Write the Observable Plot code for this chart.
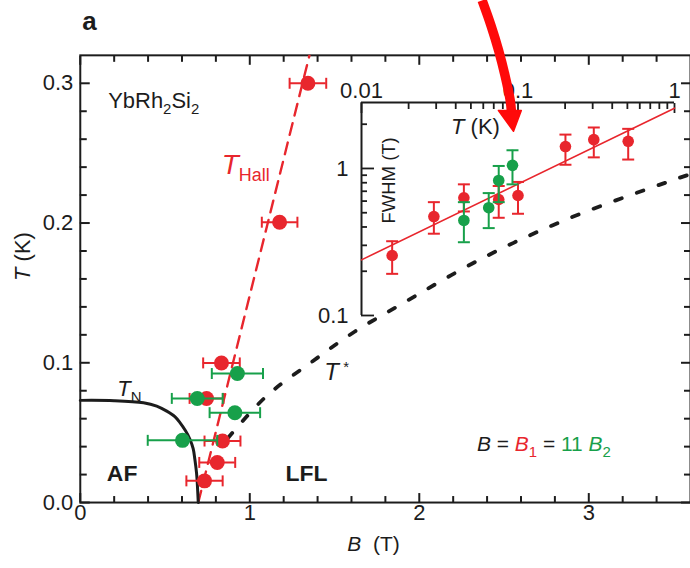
<!DOCTYPE html>
<html>
<head>
<meta charset="utf-8">
<script src="https://cdn.jsdelivr.net/npm/d3@7"></script>
<script src="https://cdn.jsdelivr.net/npm/@observablehq/plot@0.6"></script>
<style>
  html, body { margin: 0; padding: 0; background: #fff; overflow: hidden; }
  #chart { position: relative; width: 690px; height: 568px; overflow: hidden; }
  #chart svg { position: absolute; top: 0; background: transparent; }
</style>
</head>
<body>
<div id="chart"></div>
<script>
// ---------- main panel: T-B phase diagram of YbRh2Si2 ----------
// Hall crossover measured with field B1 (red): field (T), temperature (K), half width of error bar (T)
const hallB   = [0.733, 0.808, 0.839, 0.745, 0.833, 1.176, 1.343];
const hallT   = [0.0155, 0.0287, 0.0440, 0.0745, 0.0999, 0.2006, 0.3000];
const hallErr = [0.107, 0.106, 0.106, 0.100, 0.108, 0.105, 0.108];

// Hall crossover measured with field B2, rescaled by 11 (green)
const hall2B   = [0.603, 0.690, 0.912, 0.927];
const hall2T   = [0.0445, 0.0745, 0.0643, 0.0923];
const hall2Err = [0.205, 0.150, 0.149, 0.151];

// Linear guide T_Hall through the crossover points
const guideHallB = [0.696, 1.352];
const guideHallT = [0.0, 0.32];

// Neel line T_N(B)
const neelB = [0.0, 0.20, 0.373, 0.451, 0.510, 0.558, 0.588, 0.620, 0.647, 0.666, 0.676, 0.686, 0.690, 0.696];
const neelT = [0.0731, 0.0729, 0.0714, 0.0690, 0.0654, 0.0615, 0.0572, 0.0515, 0.0453, 0.0385, 0.0310, 0.0210, 0.0144, 0.0];

// Crossover line T*(B)
const tStarB = [0.870, 1.098, 1.371, 1.618, 1.871, 2.372, 2.882, 3.510, 3.600];
const tStarT = [0.0460, 0.0761, 0.1011, 0.1222, 0.1403, 0.1748, 0.2033, 0.2313, 0.2350];

const bMajor = [0, 1, 2, 3];
const bMinor = [0.2, 0.4, 0.6, 0.8, 1.2, 1.4, 1.6, 1.8, 2.2, 2.4, 2.6, 2.8, 3.2, 3.4];
const tMajor = [0, 0.1, 0.2, 0.3];
const tMinor = [0.02, 0.04, 0.06, 0.08, 0.12, 0.14, 0.16, 0.18, 0.22, 0.24, 0.26, 0.28];

// ---------- inset: FWHM versus temperature (log-log) ----------
const fwRedT  = [0.0157, 0.0290, 0.0451, 0.0753, 0.100, 0.201, 0.305, 0.506];
const fwRedW  = [0.256, 0.471, 0.632, 0.615, 0.655, 1.41, 1.57, 1.53];
const fwRedLo = [0.192, 0.360, 0.510, 0.462, 0.492, 1.06, 1.19, 1.15];
const fwRedHi = [0.320, 0.590, 0.780, 0.760, 0.810, 1.70, 1.90, 1.86];

const fwGreenT  = [0.0451, 0.0650, 0.0753, 0.0922];
const fwGreenW  = [0.443, 0.541, 0.829, 1.05];
const fwGreenLo = [0.315, 0.393, 0.590, 0.780];
const fwGreenHi = [0.590, 0.680, 1.04, 1.33];

// Power-law fit drawn as a straight line on log-log axes
const fitT = [0.01, 1];
const fitW = [0.239, 2.57];

const insetTMajor = [0.01, 0.1, 1];
const insetTMinor = [0.02, 0.03, 0.04, 0.05, 0.06, 0.07, 0.08, 0.09, 0.2, 0.3, 0.4, 0.5, 0.6, 0.7, 0.8, 0.9];
const insetWMajor = [0.1, 1];
const insetWMinor = [0.2, 0.3, 0.4, 0.5, 0.6, 0.7, 0.8, 0.9, 2];

// Pointer arrow, in inset (T, FWHM) coordinates
const arrowT = [0.0590, 0.0672, 0.0752, 0.0826, 0.0892, 0.0909];
const arrowW = [13.9, 9.39, 6.35, 4.29, 2.90, 2.40];
const arrowHeadT = [0.0750, 0.1050, 0.0936];
const arrowHeadW = [2.48, 2.48, 1.79];

// ---------- styling ----------
const RED = "#e8262d", GREEN = "#17a04a", INK = "#1c1c1c", ARROW = "#ff0a0a";
const FONT = "'Liberation Sans', Arial, Helvetica, sans-serif";

const hallPts  = hallB.map((b, i) => ({B: b, T: hallT[i], lo: b - hallErr[i], hi: b + hallErr[i]}));
const hall2Pts = hall2B.map((b, i) => ({B: b, T: hall2T[i], lo: b - hall2Err[i], hi: b + hall2Err[i]}));
const guideHall = guideHallB.map((b, i) => ({B: b, T: guideHallT[i]}));
const neel  = neelB.map((b, i) => ({B: b, T: neelT[i]}));
const tStar = tStarB.map((b, i) => ({B: b, T: tStarT[i]}));

const fwRed   = fwRedT.map((t, i) => ({T: t, W: fwRedW[i], lo: fwRedLo[i], hi: fwRedHi[i]}));
const fwGreen = fwGreenT.map((t, i) => ({T: t, W: fwGreenW[i], lo: fwGreenLo[i], hi: fwGreenHi[i]}));
const fit = fitT.map((t, i) => ({T: t, W: fitW[i]}));
const arrowPath = arrowT.map((t, i) => ({T: t, W: arrowW[i]}));
const arrowHead = arrowHeadT.map((t, i) => ({T: t, W: arrowHeadW[i]}));

// error-bar caps as custom symbols
const vCap = {draw(ctx, size) { const r = Math.sqrt(size / Math.PI); ctx.moveTo(0, -r); ctx.lineTo(0, r); }};
const hCap = {draw(ctx, size) { const r = Math.sqrt(size / Math.PI); ctx.moveTo(-r, 0); ctx.lineTo(r, 0); }};

function hErrorBars(data, color) {
  return [
    Plot.ruleY(data, {y: "T", x1: "lo", x2: "hi", stroke: color, strokeWidth: 2}),
    Plot.dot(data, {x: "lo", y: "T", symbol: vCap, r: 5.5, stroke: color, fill: "none", strokeWidth: 2}),
    Plot.dot(data, {x: "hi", y: "T", symbol: vCap, r: 5.5, stroke: color, fill: "none", strokeWidth: 2}),
    Plot.dot(data, {x: "B", y: "T", r: 7.5, fill: color, stroke: "none"})
  ];
}
function vErrorBars(data, color) {
  return [
    Plot.ruleX(data, {x: "T", y1: "lo", y2: "hi", stroke: color, strokeWidth: 2}),
    Plot.dot(data, {x: "T", y: "lo", symbol: hCap, r: 6, stroke: color, fill: "none", strokeWidth: 2}),
    Plot.dot(data, {x: "T", y: "hi", symbol: hCap, r: 6, stroke: color, fill: "none", strokeWidth: 2}),
    Plot.dot(data, {x: "T", y: "W", r: 5.8, fill: color, stroke: "none"})
  ];
}

const main = Plot.plot({
  width: 692, height: 568,
  marginTop: 55, marginRight: 0, marginBottom: 64.5, marginLeft: 80,
  x: {domain: [0, 3.6], label: null},
  y: {domain: [0, 0.32], label: null},
  style: {fontFamily: FONT, fontSize: "20px", color: INK, background: "transparent"},
  marks: [
    Plot.frame({stroke: INK, strokeWidth: 2}),
    // inward-pointing ticks on all four sides
    Plot.axisX({anchor: "bottom", ticks: bMajor, tickSize: -9, tickPadding: 11, strokeWidth: 2, tickFormat: d => String(d), label: null, fontSize: 22}),
    Plot.axisX({anchor: "bottom", ticks: bMinor, tickSize: -6, strokeWidth: 2, tickFormat: () => "", label: null}),
    Plot.axisX({anchor: "top", ticks: bMajor, tickSize: -9, strokeWidth: 2, tickFormat: () => "", label: null}),
    Plot.axisX({anchor: "top", ticks: bMinor, tickSize: -6, strokeWidth: 2, tickFormat: () => "", label: null}),
    Plot.axisY({anchor: "left", ticks: tMajor, tickSize: -10, tickPadding: 17, strokeWidth: 2, tickFormat: d3.format(".1f"), label: null, fontSize: 22}),
    Plot.axisY({anchor: "left", ticks: tMinor, tickSize: -7, strokeWidth: 2, tickFormat: () => "", label: null}),
    Plot.axisY({anchor: "right", ticks: tMajor, tickSize: -10, strokeWidth: 2, tickFormat: () => "", label: null}),
    Plot.axisY({anchor: "right", ticks: tMinor, tickSize: -7, strokeWidth: 2, tickFormat: () => "", label: null}),

    // phase-boundary lines
    Plot.line(tStar, {x: "B", y: "T", curve: "catmull-rom", stroke: INK, strokeWidth: 3.8, strokeDasharray: "7,16", clip: true}),
    Plot.line(guideHall, {x: "B", y: "T", stroke: RED, strokeWidth: 2.4, strokeDasharray: "12,8", clip: true}),
    Plot.line(neel, {x: "B", y: "T", curve: "catmull-rom", stroke: INK, strokeWidth: 3}),

    // crossover points with field error bars
    ...hErrorBars(hallPts, RED),
    ...hErrorBars(hall2Pts, GREEN),

    // annotations
    Plot.text(["a"], {frameAnchor: "top-left", dx: 2, dy: -44, textAnchor: "start", fontWeight: "bold", fontSize: 26}),
    Plot.text(["YbRh2Si2"], {x: 0.165, y: 0.2876, textAnchor: "start", fontSize: 22}),
    Plot.text(["THall"], {x: 0.835, y: 0.240, textAnchor: "start", fill: RED}),
    Plot.text(["TN"], {x: 0.218, y: 0.0816, textAnchor: "start", fontSize: 22}),
    Plot.text(["T *"], {x: 1.44, y: 0.0935, textAnchor: "start", fontSize: 24}),
    Plot.text(["AF"], {x: 0.247, y: 0.0205, fontWeight: "bold", fontSize: 23}),
    Plot.text(["LFL"], {x: 1.335, y: 0.0205, fontWeight: "bold", fontSize: 23}),
    Plot.text(["B = B1 = 11 B2"], {x: 2.735, y: 0.0415, fontSize: 21}),
    Plot.text(["B (T)"], {x: 1.73, frameAnchor: "bottom", dy: 49, fontSize: 21}),
    Plot.text(["T (K)"], {y: 0.1586, frameAnchor: "left", dx: -57, rotate: -90, fontSize: 22})
  ]
});

const inset = Plot.plot({
  width: 390, height: 330,
  marginTop: 102, marginRight: 16, marginBottom: 15, marginLeft: 61,
  x: {type: "log", domain: [0.01, 1], label: null},
  y: {type: "log", domain: [0.1, 2.81], label: null},
  style: {fontFamily: FONT, fontSize: "20px", color: INK, background: "transparent"},
  marks: [
    Plot.ruleX([0.01], {stroke: INK, strokeWidth: 2}),
    Plot.ruleY([2.81], {stroke: INK, strokeWidth: 2}),
    Plot.axisX({anchor: "top", ticks: insetTMajor, tickSize: -10, tickPadding: 15, strokeWidth: 1.8, tickFormat: d3.format("~g"), label: null, fontSize: 22}),
    Plot.axisX({anchor: "top", ticks: insetTMinor, tickSize: -6, strokeWidth: 1.8, tickFormat: () => "", label: null}),
    Plot.axisY({anchor: "left", ticks: insetWMajor, tickSize: -13, tickPadding: 26, strokeWidth: 1.8, tickFormat: d3.format("~g"), label: null, fontSize: 22}),
    Plot.axisY({anchor: "left", ticks: insetWMinor, tickSize: -6, strokeWidth: 1.8, tickFormat: () => "", label: null}),

    Plot.line(fit, {x: "T", y: "W", stroke: RED, strokeWidth: 1.6}),
    ...vErrorBars(fwRed, RED),
    ...vErrorBars(fwGreen, GREEN),

    Plot.text(["T (K)"], {x: 0.0535, y: 1.93, fontSize: 22}),
    Plot.text(["FWHM (T)"], {x: 0.0151, y: 0.83, rotate: -90, fontSize: 18.5}),

    // pointer arrow
    Plot.line(arrowPath, {x: "T", y: "W", curve: "catmull-rom", stroke: ARROW, strokeWidth: 9.5, strokeLinecap: "butt"}),
    Plot.line(arrowHead, {x: "T", y: "W", curve: "linear-closed", fill: ARROW, stroke: ARROW, strokeWidth: 1.5})
  ]
});

// rich text: italics, subscripts and colour runs inside single labels
const rich = {
  "YbRh2Si2": [{t: "YbRh"}, {t: "2", shift: 6, size: 15}, {t: "Si"}, {t: "2", shift: 6, size: 15}],
  "THall": [{t: "T", italic: true, size: 28}, {t: "Hall", shift: 8, size: 18}],
  "TN": [{t: "T", italic: true}, {t: "N", shift: 7, size: 15}],
  "T *": [{t: "T", italic: true}, {t: " *", shift: -8, size: 15}],
  "B (T)": [{t: "B", italic: true}, {t: "  (T)"}],
  "T (K)": [{t: "T", italic: true}, {t: " (K)"}],
  "B = B1 = 11 B2": [
    {t: "B", italic: true}, {t: " = "},
    {t: "B", italic: true, fill: RED}, {t: "1", shift: 6, size: 15, fill: RED},
    {t: " = "},
    {t: "11 ", fill: GREEN}, {t: "B", italic: true, fill: GREEN}, {t: "2", shift: 6, size: 15, fill: GREEN}
  ]
};
function applyRich(svg) {
  svg.querySelectorAll("text").forEach(el => {
    const parts = rich[el.textContent];
    if (!parts || el.querySelector("tspan")) return;
    el.textContent = "";
    let offset = 0;
    for (const p of parts) {
      const ts = document.createElementNS("http://www.w3.org/2000/svg", "tspan");
      ts.textContent = p.t;
      const target = p.shift || 0;
      if (target !== offset) { ts.setAttribute("dy", target - offset); offset = target; }
      if (p.size) ts.setAttribute("font-size", p.size);
      if (p.italic) ts.setAttribute("font-style", "italic");
      if (p.fill) ts.setAttribute("fill", p.fill);
      el.appendChild(ts);
    }
  });
}
applyRich(main);
applyRich(inset);

main.style.left = "0px";
inset.style.left = "300px";
const chart = document.getElementById("chart");
chart.appendChild(main);
chart.appendChild(inset);
</script>
</body>
</html>
